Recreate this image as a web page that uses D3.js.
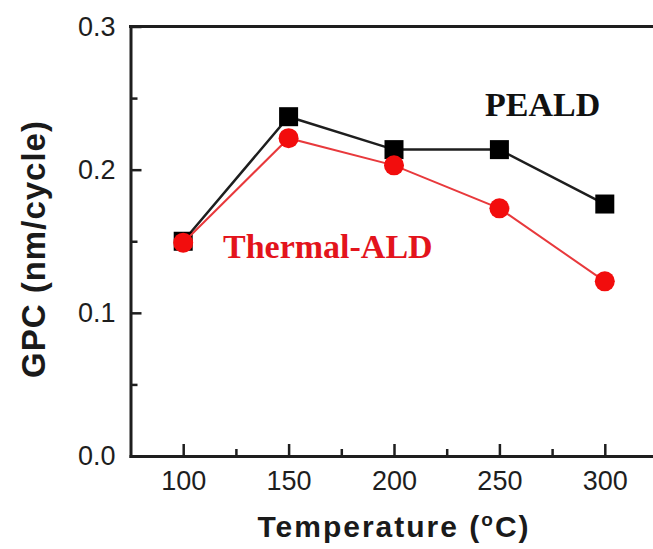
<!DOCTYPE html>
<html>
<head>
<meta charset="utf-8">
<script src="https://cdn.jsdelivr.net/npm/d3@7"></script>
<style>
    body { margin: 0; background: #fff; }
    svg { display: block; }
    .axis text { font-family: "Liberation Sans", Arial, sans-serif; font-size: 27px; fill: #1e1e1e; }
</style>
</head>
<body>
<svg width="653" height="549"></svg>
<script>
(() => {

    // data
    var temperatures = [100, 150, 200, 250, 300];
    var pealdGpc = [0.150, 0.237, 0.214, 0.214, 0.176];
    var thermalGpc = [0.149, 0.222, 0.203, 0.173, 0.122];
    var xTicks = [100, 150, 200, 250, 300];
    var xMinorTicks = [125, 175, 225, 275];
    var yTicks = [0.0, 0.1, 0.2, 0.3];
    var yMinorTicks = [0.05, 0.15, 0.25];

    var svg = d3.select('svg');

    // set the ranges
    var x = d3.scaleLinear().domain([75, 325]).range([130.5, 657.5]);
    var y = d3.scaleLinear().domain([0, 0.3]).range([456, 26.5]);

    // style every tick line of an axis group
    function styleAxis(g, width) {
        g.selectAll(".tick line")
            .attr("stroke", "#1e1e1e")
            .attr("stroke-width", width);
        g.select(".domain")
            .attr("stroke", "#1e1e1e")
            .attr("stroke-width", 3)
            .attr("stroke-linecap", "square");
    }

    // minor ticks
    svg.append("g")
        .attr("class", "axis")
        .attr('transform', 'translate(' + [0, y(0)] + ')')
        .call(d3.axisBottom(x).tickValues(xMinorTicks).tickSize(-7).tickFormat(""))
        .call(styleAxis, 2.5)
        .call(g => g.select(".domain").remove());

    svg.append("g")
        .attr("class", "axis")
        .attr('transform', 'translate(' + [x(75), 0] + ')')
        .call(d3.axisLeft(y).tickValues(yMinorTicks).tickSize(-7).tickFormat(""))
        .call(styleAxis, 2.5)
        .call(g => g.select(".domain").remove());

    // Add the X Axis
    svg.append("g")
        .attr("class", "axis")
        .attr('transform', 'translate(' + [0, y(0)] + ')')
        .call(d3.axisBottom(x)
            .tickValues(xTicks)
            .tickSizeInner(-12)
            .tickSizeOuter(0)
            .tickPadding(15)
            .tickFormat(d3.format("d")))
        .call(styleAxis, 2.5);

    // Add the Y Axis
    svg.append("g")
        .attr("class", "axis")
        .attr('transform', 'translate(' + [x(75), 0] + ')')
        .call(d3.axisLeft(y)
            .tickValues(yTicks)
            .tickSizeInner(-11)
            .tickSizeOuter(0)
            .tickPadding(15)
            .tickFormat(d3.format(".1f")))
        .call(styleAxis, 2.5);

    // top border of the frame
    svg.append("line")
        .attr("x1", x(75)).attr("x2", x(325))
        .attr("y1", y(0.3)).attr("y2", y(0.3))
        .attr("stroke", "#1e1e1e")
        .attr("stroke-width", 3)
        .attr("stroke-linecap", "square");

    var line = d3.line()
        .x(function (d) { return x(d[0]); })
        .y(function (d) { return y(d[1]); });

    var peald = d3.zip(temperatures, pealdGpc);
    var thermal = d3.zip(temperatures, thermalGpc);

    // PEALD series
    svg.append("path")
        .datum(peald)
        .attr("fill", "none")
        .attr("stroke", "#1e1e1e")
        .attr("stroke-width", 2.5)
        .attr("d", line);

    svg.selectAll("rect.peald")
        .data(peald)
        .enter().append("rect")
        .attr("class", "peald")
        .attr("x", function (d) { return x(d[0]) - 9.5; })
        .attr("y", function (d) { return y(d[1]) - 9.5; })
        .attr("width", 19)
        .attr("height", 19)
        .attr("fill", "#000");

    // Thermal-ALD series
    svg.append("path")
        .datum(thermal)
        .attr("fill", "none")
        .attr("stroke", "#e8393c")
        .attr("stroke-width", 2)
        .attr("d", line);

    svg.selectAll("circle.thermal")
        .data(thermal)
        .enter().append("circle")
        .attr("class", "thermal")
        .attr("r", 10)
        .attr("cx", function (d) { return x(d[0]); })
        .attr("cy", function (d) { return y(d[1]); })
        .attr("fill", "#f20d0d");

    // series labels
    svg.append("text")
        .attr("x", 485)
        .attr("y", 116)
        .style("font-family", "'Liberation Serif', 'Times New Roman', serif")
        .style("font-weight", "bold")
        .style("font-size", "34px")
        .style("fill", "#111")
        .text("PEALD");

    svg.append("text")
        .attr("x", 223)
        .attr("y", 258)
        .style("font-family", "'Liberation Serif', 'Times New Roman', serif")
        .style("font-weight", "bold")
        .style("font-size", "34px")
        .style("fill", "#e3141c")
        .text("Thermal-ALD");

    // axis titles
    var xTitle = svg.append("text")
        .attr("x", 394)
        .attr("y", 537)
        .attr("text-anchor", "middle")
        .style("font-family", "'Liberation Sans', Arial, sans-serif")
        .style("font-weight", "bold")
        .style("font-size", "30px")
        .style("letter-spacing", "2px")
        .style("fill", "#1a1a1a");
    xTitle.append("tspan").text("Temperature (");
    xTitle.append("tspan")
        .attr("dy", -11)
        .style("font-size", "19px")
        .text("o");
    xTitle.append("tspan").attr("dy", 11).text("C)");

    svg.append("text")
        .attr("transform", "translate(45,249) rotate(-90)")
        .attr("text-anchor", "middle")
        .style("font-family", "'Liberation Sans', Arial, sans-serif")
        .style("font-weight", "bold")
        .style("font-size", "33px")
        .style("letter-spacing", "1px")
        .style("fill", "#1a1a1a")
        .text("GPC (nm/cycle)");

})();
</script>
</body>
</html>
